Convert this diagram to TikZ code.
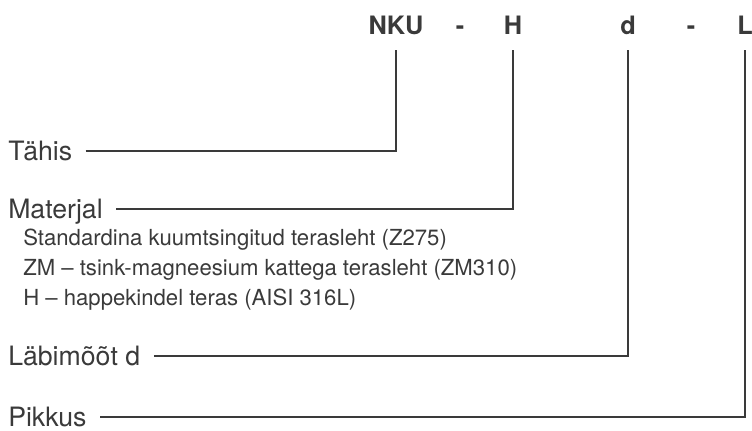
\documentclass[tikz,border=0pt]{standalone}
\usepackage{fontspec}
\setmainfont{TeX Gyre Heros}
\usepackage{xcolor}
\usepackage{tikz}
\definecolor{inkgray}{RGB}{58,58,58}

\begin{document}
\begin{tikzpicture}[x=0.75pt,y=-0.75pt,
  code/.style={anchor=base,inner sep=0pt,text depth=0pt,text=inkgray,
    font=\bfseries\fontsize{19}{22}\selectfont},
  label/.style={anchor=west,inner sep=0pt,text height=14.5pt,text depth=0pt,
    text=inkgray,font=\fontsize{20}{24}\selectfont},
  option/.style={anchor=base west,inner sep=0pt,text=inkgray,
    font=\fontsize{16.6}{19}\selectfont},
  lead/.style={draw=inkgray,line width=1.2pt,shorten <=10pt,shorten >=12pt}]
\useasboundingbox (0,0) rectangle (752,430);
% product code
\node[code] (nku) at (396,34) {NKU};
\node[code] (dash1) at (460,34) {-};
\node[code] (h) at (513,34) {H};
\node[code] (d) at (628,34) {d};
\node[code] (dash2) at (691,34) {-};
\node[code] (l) at (745,34) {L};
% labels
\node[label] (tahis) at (8,151) {Tähis};
\node[label] (materjal) at (8,209) {Materjal};
\node[label] (labimoot) at (8,356) {Läbimõõt d};
\node[label] (pikkus) at (8,417) {Pikkus};
% material options
\node[option] (opt1) at (23,245) {Standardina kuumtsingitud terasleht (Z275)};
\node[option] (opt2) at (23,275) {ZM – tsink-magneesium kattega terasleht (ZM310)};
\node[option] (opt3) at (23,305) {H – happekindel teras (AISI 316L)};
% leader lines
\draw[lead] (tahis.east) -| (nku.south);
\draw[lead] (materjal.east) -| (h.south);
\draw[lead] (labimoot.east) -| (d.south);
\draw[lead] (pikkus.east) -| (l.south);
\end{tikzpicture}
\end{document}
